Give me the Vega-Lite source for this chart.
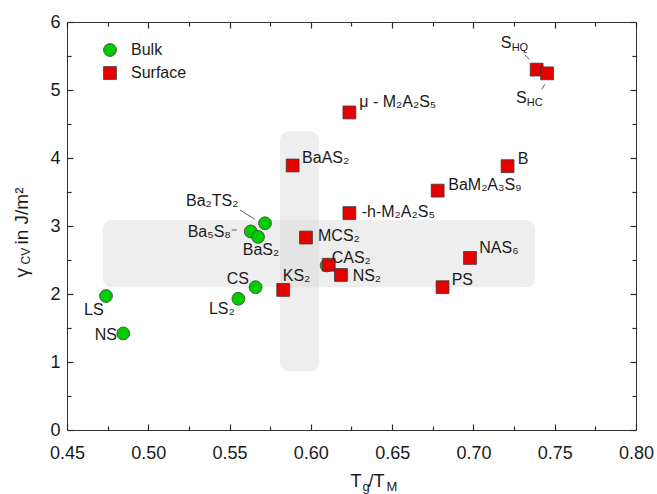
{
  "$schema": "https://vega.github.io/schema/vega-lite/v6.json",
  "width": 569,
  "height": 408,
  "autosize": {"type": "none"},
  "padding": {"left": 67, "top": 22, "right": 21, "bottom": 64},
  "config": {
    "view": {"stroke": "#333333"}
  },
  "datasets": {
    "bands": [
      {"x1": 0.472, "x2": 0.738, "y1": 2.10, "y2": 3.09},
      {"x1": 0.581, "x2": 0.605, "y1": 0.86, "y2": 4.39}
    ],
    "pts": [
      {"name": "LS", "type": "Bulk", "tg": 0.474, "gamma": 1.97},
      {"name": "NS", "type": "Bulk", "tg": 0.4846, "gamma": 1.42},
      {"name": "LS2", "type": "Bulk", "tg": 0.5554, "gamma": 1.93},
      {"name": "CS", "type": "Bulk", "tg": 0.566, "gamma": 2.10},
      {"name": "Ba5S8", "type": "Bulk", "tg": 0.563, "gamma": 2.92},
      {"name": "BaS2", "type": "Bulk", "tg": 0.5675, "gamma": 2.84},
      {"name": "Ba2TS2", "type": "Bulk", "tg": 0.5718, "gamma": 3.04},
      {"name": "CAS2", "type": "Bulk", "tg": 0.6097, "gamma": 2.42},
      {"name": "KS2", "type": "Surface", "tg": 0.583, "gamma": 2.06},
      {"name": "MCS2", "type": "Surface", "tg": 0.597, "gamma": 2.83},
      {"name": "CAS2", "type": "Surface", "tg": 0.611, "gamma": 2.43},
      {"name": "NS2", "type": "Surface", "tg": 0.6185, "gamma": 2.28},
      {"name": "h-M2A2S5", "type": "Surface", "tg": 0.6237, "gamma": 3.19},
      {"name": "BaAS2", "type": "Surface", "tg": 0.5888, "gamma": 3.89},
      {"name": "mu-M2A2S5", "type": "Surface", "tg": 0.6237, "gamma": 4.67},
      {"name": "BaM2A3S9", "type": "Surface", "tg": 0.678, "gamma": 3.52},
      {"name": "B", "type": "Surface", "tg": 0.721, "gamma": 3.88},
      {"name": "SHQ", "type": "Surface", "tg": 0.7389, "gamma": 5.30},
      {"name": "SHC", "type": "Surface", "tg": 0.7453, "gamma": 5.245},
      {"name": "NAS6", "type": "Surface", "tg": 0.6979, "gamma": 2.53},
      {"name": "PS", "type": "Surface", "tg": 0.681, "gamma": 2.10}
    ],
    "labels": [
      {"text": "Ba₂TS₂", "lx": 0.5232, "ly": 3.371},
      {"text": "Ba₅S₈", "lx": 0.5242, "ly": 2.916},
      {"text": "BaS₂", "lx": 0.5581, "ly": 2.640},
      {"text": "CS", "lx": 0.5482, "ly": 2.224},
      {"text": "LS₂", "lx": 0.5373, "ly": 1.784},
      {"text": "LS", "lx": 0.4605, "ly": 1.765},
      {"text": "NS", "lx": 0.4670, "ly": 1.400},
      {"text": "KS₂", "lx": 0.5827, "ly": 2.260},
      {"text": "MCS₂", "lx": 0.6044, "ly": 2.860},
      {"text": "CAS₂", "lx": 0.6128, "ly": 2.529},
      {"text": "NS₂", "lx": 0.6257, "ly": 2.262},
      {"text": "NAS₆", "lx": 0.7036, "ly": 2.672},
      {"text": "PS", "lx": 0.6866, "ly": 2.213},
      {"text": "BaM₂A₃S₉", "lx": 0.6845, "ly": 3.599},
      {"text": "-h-M₂A₂S₅", "lx": 0.6313, "ly": 3.206},
      {"text": "B", "lx": 0.7272, "ly": 3.978},
      {"text": "μ - M₂A₂S₅", "lx": 0.6298, "ly": 4.821},
      {"text": "S", "lx": 0.7168, "ly": 5.694},
      {"text": "S", "lx": 0.7262, "ly": 4.885},
      {"text": "BaAS₂", "lx": 0.5946, "ly": 4.007}
    ],
    "subs": [
      {"text": "HQ", "lx": 0.7235, "ly": 5.613},
      {"text": "HC", "lx": 0.7328, "ly": 4.804}
    ],
    "leaders": [
      {"x1": 0.5564, "y1": 3.235, "x2": 0.5656, "y2": 3.099},
      {"x1": 0.5513, "y1": 2.941, "x2": 0.5544, "y2": 2.941},
      {"x1": 0.7317, "y1": 5.515, "x2": 0.7344, "y2": 5.451},
      {"x1": 0.7440, "y1": 5.084, "x2": 0.7420, "y2": 5.010}
    ]
  },
  "resolve": {"axis": {"x": "independent", "y": "independent"}},
  "layer": [
    {
      "data": {"name": "bands"},
      "mark": {"type": "rect", "cornerRadius": 9, "fill": "#d4d4d4", "opacity": 0.4},
      "encoding": {
        "x": {
          "field": "x1", "type": "quantitative",
          "scale": {"domain": [0.45, 0.8], "nice": false, "zero": false},
          "axis": {
            "orient": "bottom", "offset": -6, "domain": false, "grid": false,
            "values": [0.45, 0.5, 0.55, 0.6, 0.65, 0.7, 0.75, 0.8],
            "tickSize": 6, "tickColor": "#2a2a2a", "tickWidth": 1.2,
            "format": ".2f", "labelPadding": 14, "labelFlush": false, "labelOverlap": false,
            "labelFont": "Liberation Sans", "labelFontSize": 18, "labelColor": "#1a1a1a",
            "title": "T", "titleFont": "Liberation Sans", "titleFontSize": 18, "titleFontWeight": "normal",
            "titleColor": "#1a1a1a", "titleAlign": "left", "titleBaseline": "alphabetic",
            "titleX": 283, "titleY": 62
          }
        },
        "x2": {"field": "x2"},
        "y": {
          "field": "y1", "type": "quantitative",
          "scale": {"domain": [0, 6], "nice": false, "zero": false},
          "axis": {
            "orient": "left", "offset": -6, "domain": false, "grid": false,
            "values": [0, 1, 2, 3, 4, 5, 6],
            "tickSize": 6, "tickColor": "#2a2a2a", "tickWidth": 1.2,
            "format": "d", "labelPadding": 7, "labelFlush": false, "labelOverlap": false,
            "labelFont": "Liberation Sans", "labelFontSize": 18, "labelColor": "#1a1a1a",
            "title": "γ", "titleFont": "Liberation Sans", "titleFontSize": 19, "titleFontWeight": "normal",
            "titleColor": "#1a1a1a", "titleAlign": "left", "titleBaseline": "alphabetic",
            "titleAngle": 270, "titleX": -46, "titleY": 255
          }
        },
        "y2": {"field": "y2"}
      }
    },
    {
      "data": {"name": "leaders"},
      "mark": {"type": "rule", "stroke": "#333333", "strokeWidth": 0.8},
      "encoding": {
        "x": {
          "field": "x1", "type": "quantitative",
          "scale": {"domain": [0.45, 0.8], "nice": false, "zero": false},
          "axis": {
            "orient": "top", "offset": -6, "domain": false, "grid": false,
            "values": [0.45, 0.5, 0.55, 0.6, 0.65, 0.7, 0.75, 0.8],
            "tickSize": 6, "tickColor": "#2a2a2a", "tickWidth": 1.2, "labels": false,
            "title": "/T", "titleFont": "Liberation Sans", "titleFontSize": 18, "titleFontWeight": "normal",
            "titleColor": "#1a1a1a", "titleAlign": "left", "titleBaseline": "alphabetic",
            "titleX": 301, "titleY": 458
          }
        },
        "x2": {"field": "x2"},
        "y": {
          "field": "y1", "type": "quantitative",
          "scale": {"domain": [0, 6], "nice": false, "zero": false},
          "axis": {
            "orient": "right", "offset": -6, "domain": false, "grid": false,
            "values": [0, 1, 2, 3, 4, 5, 6],
            "tickSize": 6, "tickColor": "#2a2a2a", "tickWidth": 1.2, "labels": false,
            "title": "in J/m²", "titleFont": "Liberation Sans", "titleFontSize": 19, "titleFontWeight": "normal",
            "titleColor": "#1a1a1a", "titleAlign": "left", "titleBaseline": "alphabetic",
            "titleAngle": 270, "titleX": -603, "titleY": 222
          }
        },
        "y2": {"field": "y2"}
      }
    },
    {
      "data": {"name": "pts"},
      "mark": {"type": "point", "filled": true, "size": 165, "stroke": "#3a3a3a", "strokeWidth": 0.8, "opacity": 1},
      "encoding": {
        "x": {
          "field": "tg", "type": "quantitative",
          "scale": {"domain": [0.45, 0.8], "nice": false, "zero": false},
          "axis": {
            "orient": "bottom", "offset": -4, "domain": false, "grid": false,
            "values": [0.475, 0.525, 0.575, 0.625, 0.675, 0.725, 0.775],
            "tickSize": 4, "tickColor": "#2a2a2a", "tickWidth": 1.2, "labels": false,
            "title": "g", "titleFont": "Liberation Sans", "titleFontSize": 13, "titleFontWeight": "normal",
            "titleColor": "#1a1a1a", "titleAlign": "left", "titleBaseline": "alphabetic",
            "titleX": 295, "titleY": 64
          }
        },
        "y": {
          "field": "gamma", "type": "quantitative",
          "scale": {"domain": [0, 6], "nice": false, "zero": false},
          "axis": {
            "orient": "left", "offset": -4, "domain": false, "grid": false,
            "values": [0.5, 1.5, 2.5, 3.5, 4.5, 5.5],
            "tickSize": 4, "tickColor": "#2a2a2a", "tickWidth": 1.2, "labels": false,
            "title": "CV", "titleFont": "Liberation Sans", "titleFontSize": 12, "titleFontWeight": "normal",
            "titleColor": "#1a1a1a", "titleAlign": "left", "titleBaseline": "alphabetic",
            "titleAngle": 270, "titleX": -41.5, "titleY": 242
          }
        },
        "color": {
          "field": "type", "type": "nominal",
          "scale": {"domain": ["Bulk", "Surface"], "range": ["#00cc00", "#e60000"]},
          "legend": {"orient": "none", "legendX": 35, "legendY": 20, "title": null, "padding": 0,
            "symbolSize": 165, "labelFontSize": 16, "labelFont": "Liberation Sans", "labelColor": "#1a1a1a",
            "labelOffset": 13, "rowPadding": 5, "symbolStrokeColor": "#3a3a3a", "symbolStrokeWidth": 0.8}
        },
        "shape": {
          "field": "type", "type": "nominal",
          "scale": {"domain": ["Bulk", "Surface"], "range": ["circle", "square"]},
          "legend": {"orient": "none", "legendX": 35, "legendY": 20, "title": null, "padding": 0,
            "symbolSize": 165, "labelFontSize": 16, "labelFont": "Liberation Sans", "labelColor": "#1a1a1a",
            "labelOffset": 13, "rowPadding": 5, "symbolStrokeColor": "#3a3a3a", "symbolStrokeWidth": 0.8}
        }
      }
    },
    {
      "data": {"name": "labels"},
      "mark": {"type": "text", "align": "left", "baseline": "middle", "fontSize": 16, "font": "Liberation Sans", "color": "#1a1a1a"},
      "encoding": {
        "x": {
          "field": "lx", "type": "quantitative",
          "scale": {"domain": [0.45, 0.8], "nice": false, "zero": false},
          "axis": {
            "orient": "top", "offset": -4, "domain": false, "grid": false,
            "values": [0.475, 0.525, 0.575, 0.625, 0.675, 0.725, 0.775],
            "tickSize": 4, "tickColor": "#2a2a2a", "tickWidth": 1.2, "labels": false,
            "title": "M", "titleFont": "Liberation Sans", "titleFontSize": 13, "titleFontWeight": "normal",
            "titleColor": "#1a1a1a", "titleAlign": "left", "titleBaseline": "alphabetic",
            "titleX": 319, "titleY": 464.5
          }
        },
        "y": {
          "field": "ly", "type": "quantitative",
          "scale": {"domain": [0, 6], "nice": false, "zero": false},
          "axis": {
            "orient": "right", "offset": -4, "domain": false, "grid": false,
            "values": [0.5, 1.5, 2.5, 3.5, 4.5, 5.5],
            "tickSize": 4, "tickColor": "#2a2a2a", "tickWidth": 1.2, "labels": false, "title": null
          }
        },
        "text": {"field": "text"}
      }
    },
    {
      "data": {"name": "subs"},
      "mark": {"type": "text", "align": "left", "baseline": "middle", "fontSize": 11, "font": "Liberation Sans", "color": "#1a1a1a"},
      "encoding": {
        "x": {"field": "lx", "type": "quantitative", "scale": {"domain": [0.45, 0.8], "nice": false, "zero": false}, "axis": null},
        "y": {"field": "ly", "type": "quantitative", "scale": {"domain": [0, 6], "nice": false, "zero": false}, "axis": null},
        "text": {"field": "text"}
      }
    }
  ]
}
